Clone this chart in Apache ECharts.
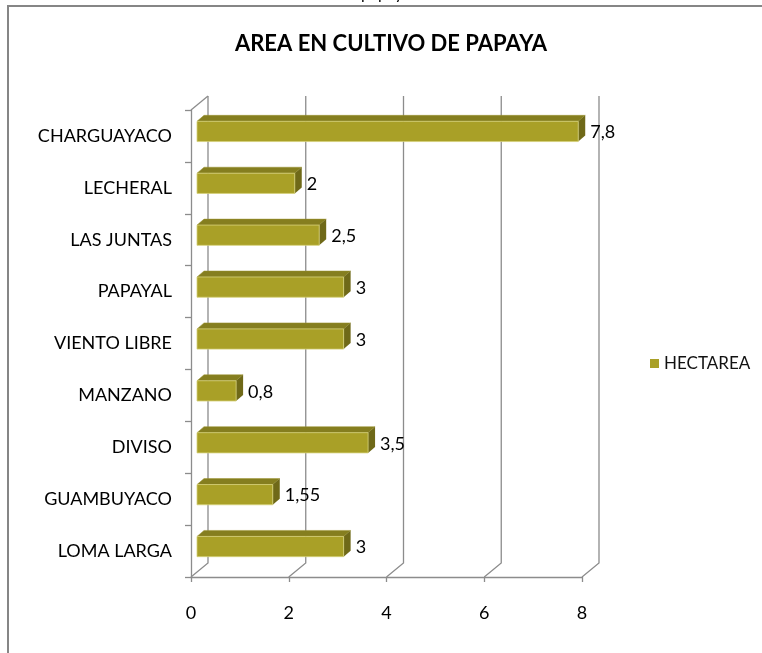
<!DOCTYPE html>
<html>
<head>
<meta charset="utf-8">
<title>Area en cultivo de papaya</title>
<script src="https://cdn.jsdelivr.net/npm/echarts@6/dist/echarts.min.js"></script>
<style>
  html, body { margin: 0; padding: 0; background: #fff; }
  #chart { width: 762px; height: 653px; }
</style>
</head>
<body>
<div id="chart"></div>
<script>
  // datos del grafico
  var categories = ['CHARGUAYACO', 'LECHERAL', 'LAS JUNTAS', 'PAPAYAL', 'VIENTO LIBRE', 'MANZANO', 'DIVISO', 'GUAMBUYACO', 'LOMA LARGA']
  var hectareas = [7.8, 2, 2.5, 3, 3, 0.8, 3.5, 1.55, 3]
  var valueTicks = [0, 2, 4, 6, 8]

  var font = 'Lato'
  var gridColor = '#8c8c8c'
  // desplazamiento de la pared del fondo (efecto 3D)
  var wallDx = 17, wallDy = -14
  var barColor = '#a9a027'

  function fmt(v) {
    return String(v).replace('.', ',')
  }

  function renderWall(params, api) {
    var cs = params.coordSys
    var x = api.coord([api.value(0), 0])[0]
    var yb = cs.y + cs.height
    var yt = cs.y
    var children = [{
      type: 'polyline',
      shape: { points: [[x, yb], [x + wallDx, yb + wallDy], [x + wallDx, yt + wallDy]] },
      style: { stroke: gridColor, lineWidth: 1.3, fill: null }
    }]
    if (api.value(0) === 0) {
      children.push({
        type: 'line',
        shape: { x1: x, y1: yt, x2: x + wallDx, y2: yt + wallDy },
        style: { stroke: gridColor, lineWidth: 1.3 }
      })
    }
    return { type: 'group', children: children }
  }

  function renderBar(params, api) {
    var v = api.value(0)
    var idx = api.value(1)
    var start = api.coord([0, idx])
    var end = api.coord([v, idx])
    var band = api.size([0, 1])[1]
    var h = band * 0.39
    var ox = 6, oy = -4.5
    var dx = 7, dy = -6
    var x0 = start[0] + ox
    var x1 = end[0] + ox
    var yt = start[1] + oy - h / 2
    return {
      type: 'group',
      children: [
        {
          type: 'polygon',
          shape: { points: [[x0, yt], [x1, yt], [x1 + dx, yt + dy], [x0 + dx, yt + dy]] },
          style: { fill: '#857e1f', stroke: '#9a9330', lineWidth: 0.5 }
        },
        {
          type: 'polygon',
          shape: { points: [[x1, yt], [x1 + dx, yt + dy], [x1 + dx, yt + dy + h], [x1, yt + h]] },
          style: { fill: '#6f6918' }
        },
        {
          type: 'rect',
          shape: { x: x0, y: yt, width: x1 - x0, height: h },
          style: { fill: barColor, stroke: '#d6d07a', lineWidth: 0.8 }
        },
        {
          type: 'text',
          x: x1 + dx + 5,
          y: yt + h / 2 + 1,
          style: {
            text: fmt(v),
            fill: '#000',
            font: '18px ' + font,
            textVerticalAlign: 'middle'
          }
        }
      ]
    }
  }

  var chart = echarts.init(document.getElementById('chart'))
  chart.setOption({
    animation: false,
    textStyle: { fontFamily: font },
    graphic: [
      {
        type: 'rect',
        shape: { x: 8, y: 6, width: 800, height: 700 },
        style: { fill: null, stroke: '#868686', lineWidth: 2 }
      },
      {
        type: 'text',
        x: 361,
        y: -6,
        style: { text: 'papaya', font: '16px ' + font, fill: '#000', textVerticalAlign: 'middle' }
      },
      {
        type: 'text',
        x: 391,
        y: 44,
        style: {
          text: 'AREA EN CULTIVO DE PAPAYA',
          font: 'bold 22px ' + font,
          fill: '#000',
          textAlign: 'center',
          textVerticalAlign: 'middle'
        }
      }
    ],
    legend: {
      left: 645,
      top: 350,
      icon: 'rect',
      itemWidth: 9,
      itemHeight: 9,
      textStyle: { fontSize: 17, color: '#111', fontFamily: font },
      data: ['HECTAREA']
    },
    grid: { left: 191, top: 110, width: 391, height: 467, containLabel: false },
    xAxis: {
      type: 'value',
      min: 0,
      max: 8,
      interval: 2,
      axisLine: { show: true, lineStyle: { color: gridColor, width: 1.3 } },
      axisTick: { show: true, length: 5, lineStyle: { color: gridColor, width: 1.3 } },
      axisLabel: { fontSize: 18, color: '#000', margin: 27 },
      splitLine: { show: false }
    },
    yAxis: {
      type: 'category',
      inverse: true,
      data: categories,
      axisLine: { show: true, lineStyle: { color: gridColor, width: 1.3 } },
      axisTick: { show: true, length: 6, lineStyle: { color: gridColor, width: 1.3 } },
      axisLabel: { fontSize: 18, color: '#000', margin: 19 }
    },
    series: [
      {
        type: 'custom',
        name: 'wall',
        silent: true,
        renderItem: renderWall,
        data: valueTicks.map(function (t) { return [t] }),
        encode: { x: 0 },
        z: 1
      },
      {
        type: 'custom',
        name: 'HECTAREA',
        color: barColor,
        renderItem: renderBar,
        data: hectareas.map(function (v, i) { return [v, i] }),
        encode: { x: 0, y: 1 },
        z: 2
      }
    ]
  })
</script>
</body>
</html>
